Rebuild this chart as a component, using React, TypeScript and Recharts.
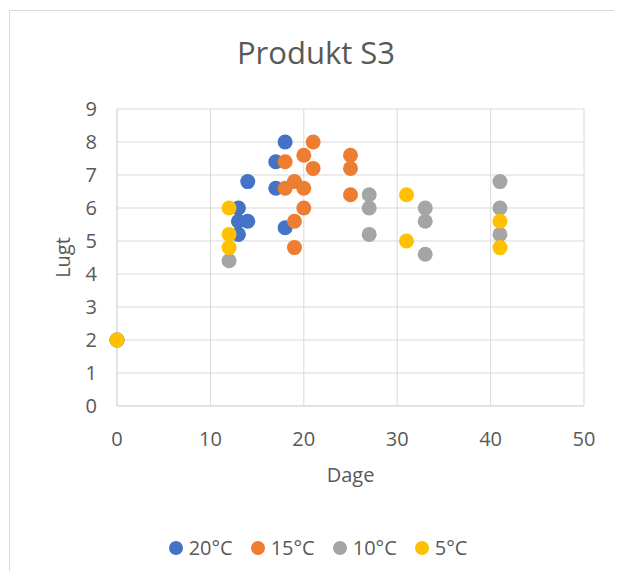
import React from 'react';
import { ScatterChart, Scatter, XAxis, YAxis, CartesianGrid, Legend } from 'recharts';

// Axis ticks
const dayTicks = [0, 10, 20, 30, 40, 50];
const lugtTicks = [0, 1, 2, 3, 4, 5, 6, 7, 8, 9];

// 20°C storage
const days20 = [0, 13, 13, 14, 13, 14, 17, 17, 18, 18];
const lugt20 = [2, 6, 5.6, 5.6, 5.2, 6.8, 7.4, 6.6, 8, 5.4];

// 15°C storage
const days15 = [0, 18, 18, 19, 19, 19, 20, 20, 20, 21, 21, 25, 25, 25];
const lugt15 = [2, 7.4, 6.6, 6.8, 5.6, 4.8, 7.6, 6.6, 6, 8, 7.2, 7.6, 7.2, 6.4];

// 10°C storage
const days10 = [0, 12, 27, 27, 27, 33, 33, 33, 41, 41, 41];
const lugt10 = [2, 4.4, 6.4, 6, 5.2, 6, 5.6, 4.6, 6.8, 6, 5.2];

// 5°C storage
const days5 = [0, 12, 12, 12, 31, 31, 41, 41];
const lugt5 = [2, 6, 5.2, 4.8, 6.4, 5, 5.6, 4.8];

const seriesNames = ['20°C', '15°C', '10°C', '5°C'];
const seriesColors = ['#4472C4', '#ED7D31', '#A5A5A5', '#FFC000'];

const toPoints = (days: number[], values: number[]) =>
  days.map((d, i) => ({ dage: d, lugt: values[i] }));

const seriesData = [
  toPoints(days20, lugt20),
  toPoints(days15, lugt15),
  toPoints(days10, lugt10),
  toPoints(days5, lugt5),
];

const FONT = "'Open Sans', sans-serif";
const TEXT = '#595959';
const GRID = '#D9D9D9';
const MARKER_R = 7.5;

const makeDot = (color: string) => (props: any) =>
  <circle cx={props.cx} cy={props.cy} r={MARKER_R} fill={color} />;

const renderLegend = () => (
  <div
    style={{
      display: 'flex',
      justifyContent: 'center',
      alignItems: 'center',
      gap: 18,
      height: 28,
      fontFamily: FONT,
    }}
  >
    {seriesNames.map((name, i) => (
      <div key={name} style={{ display: 'flex', alignItems: 'center' }}>
        <span
          style={{
            display: 'inline-block',
            width: 14,
            height: 14,
            borderRadius: '50%',
            background: seriesColors[i],
            marginRight: 6,
          }}
        />
        <span style={{ fontSize: 20, color: TEXT, lineHeight: '28px' }}>{name}</span>
      </div>
    ))}
  </div>
);

export default function App() {
  return (
    <div style={{ position: 'relative', width: 606, height: 563, overflow: 'hidden', background: '#fff' }}>
      <div
        style={{
          position: 'absolute',
          top: 2,
          left: 1,
          width: 640,
          height: 600,
          borderTop: `1px solid ${GRID}`,
          borderLeft: `1px solid ${GRID}`,
        }}
      />
      <div
        style={{
          position: 'absolute',
          top: 29,
          left: 0,
          width: 616,
          textAlign: 'center',
          fontFamily: FONT,
          fontSize: 31,
          lineHeight: '31px',
          color: TEXT,
        }}
      >
        Produkt S3
      </div>
      <ScatterChart
        width={606}
        height={563}
        margin={{ top: 101, right: 30, left: 0, bottom: 27 }}
        style={{ fontFamily: FONT }}
      >
        <CartesianGrid stroke={GRID} strokeWidth={1} />
        <XAxis
          type="number"
          dataKey="dage"
          domain={[0, 50]}
          ticks={dayTicks}
          allowDecimals={false}
          height={138}
          tickLine={false}
          tickSize={0}
          tickMargin={26}
          axisLine={{ stroke: GRID }}
          tick={{ fill: TEXT, fontSize: 20, fontFamily: FONT }}
          label={{ value: 'Dage', position: 'center', fill: TEXT, fontSize: 20, fontFamily: FONT }}
        />
        <YAxis
          type="number"
          dataKey="lugt"
          domain={[0, 9]}
          ticks={lugtTicks}
          width={109}
          tickLine={false}
          tickSize={0}
          tickMargin={20}
          axisLine={{ stroke: GRID }}
          tick={{ fill: TEXT, fontSize: 20, fontFamily: FONT }}
          label={{ value: 'Lugt', angle: -90, position: 'center', fill: TEXT, fontSize: 20, fontFamily: FONT }}
        />
        {seriesData.map((data, i) => (
          <Scatter
            key={seriesNames[i]}
            name={seriesNames[i]}
            data={data}
            fill={seriesColors[i]}
            shape={makeDot(seriesColors[i])}
            isAnimationActive={false}
          />
        ))}
        <Legend
          verticalAlign="middle"
          align="center"
          content={renderLegend}
          wrapperStyle={{ top: 526, left: 7, width: 606 }}
        />
      </ScatterChart>
    </div>
  );
}
